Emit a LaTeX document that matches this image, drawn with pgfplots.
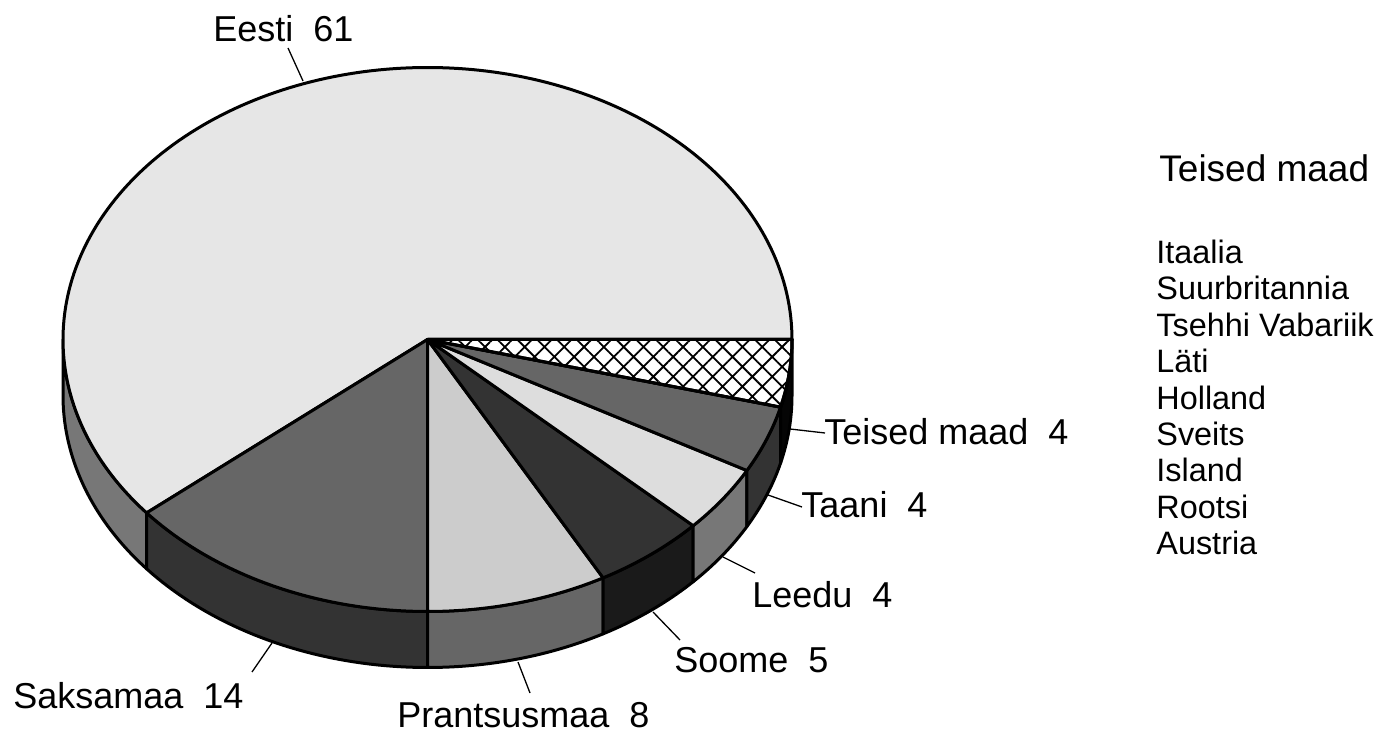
\documentclass[border=0pt]{standalone}
\usepackage{pgfplots}
\pgfplotsset{compat=1.18}
\usetikzlibrary{patterns.meta}
\usepackage{fontspec}
\setmainfont{Liberation Sans}

% data (percent)
\def\vEesti{61}
\def\vSaksamaa{14}
\def\vPrantsusmaa{8}
\def\vSoome{5}
\def\vLeedu{4}
\def\vTaani{4}
\def\vTeised{4}

% geometry in image pixels (y upward = negative)
\def\cx{427.5}
\def\cy{-339.5}
\def\rx{364.5}
\def\ry{272}
\def\dep{56}

\pgfmathsetmacro{\aA}{0}
\pgfmathsetmacro{\aB}{\aA+3.6*\vEesti}
\pgfmathsetmacro{\aC}{\aB+3.6*\vSaksamaa}
\pgfmathsetmacro{\aD}{\aC+3.6*\vPrantsusmaa}
\pgfmathsetmacro{\aE}{\aD+3.6*\vSoome}
\pgfmathsetmacro{\aF}{\aE+3.6*\vLeedu}
\pgfmathsetmacro{\aG}{\aF+3.6*\vTaani}
\pgfmathsetmacro{\aH}{\aG+3.6*\vTeised}

\definecolor{cEestiT}{HTML}{E6E6E6}
\definecolor{cEestiS}{HTML}{777777}
\definecolor{cSaksT}{HTML}{666666}
\definecolor{cSaksS}{HTML}{333333}
\definecolor{cPranT}{HTML}{CCCCCC}
\definecolor{cPranS}{HTML}{666666}
\definecolor{cSoomT}{HTML}{333333}
\definecolor{cSoomS}{HTML}{1A1A1A}
\definecolor{cLeedT}{HTML}{DDDDDD}
\definecolor{cLeedS}{HTML}{777777}
\definecolor{cTaanT}{HTML}{666666}
\definecolor{cTaanS}{HTML}{333333}
\definecolor{cTeisS}{HTML}{050505}

\def\olw{1.5pt}

% side wall: #1 start angle, #2 end angle, #3 colour
\newcommand{\sidewall}[3]{%
  \addplot[fill=#3, draw=black, line width=\olw, line join=round, domain=0:2, samples=81, variable=\t, forget plot]
   ({\cx + \rx*cos(#1+(#2-#1)*min(1,(1-abs(1-\t))*40/39))},
    {\cy + \ry*sin(#1+(#2-#1)*min(1,(1-abs(1-\t))*40/39)) - \dep*(\t>1.0001)}) -- cycle;
}
% top face
\newcommand{\topface}[4]{%
  \addplot[#3, draw=black, line width=\olw, line join=round, domain=#1:#2, samples=#4, variable=\t, forget plot]
   ({\cx + \rx*cos(\t)}, {\cy + \ry*sin(\t)}) -- (\cx,\cy) -- cycle;
}

\begin{document}
\begin{tikzpicture}
\begin{axis}[width=692pt, height=366.5pt, scale only axis,
  xmin=0, xmax=1384, ymin=-733, ymax=0, hide axis, clip=false]
\addplot[draw=none, forget plot] coordinates {(0,0) (1384,-733)};

% side walls (front half only)
\sidewall{180}{\aB}{cEestiS}
\sidewall{\aB}{\aC}{cSaksS}
\sidewall{\aC}{\aD}{cPranS}
\sidewall{\aD}{\aE}{cSoomS}
\sidewall{\aE}{\aF}{cLeedS}
\sidewall{\aF}{\aG}{cTaanS}
\sidewall{\aG}{\aH}{cTeisS}

% top faces
\topface{\aA}{\aB}{fill=cEestiT}{181}
\topface{\aB}{\aC}{fill=cSaksT}{41}
\topface{\aC}{\aD}{fill=cPranT}{25}
\topface{\aD}{\aE}{fill=cSoomT}{17}
\topface{\aE}{\aF}{fill=cLeedT}{13}
\topface{\aF}{\aG}{fill=cTaanT}{13}
\topface{\aG}{\aH}{fill=white}{13}
\addplot[pattern={Hatch[angle=45,distance=7pt,line width=0.9pt]}, draw=black, line width=\olw, line join=round, domain=\aG:\aH, samples=13, variable=\t, forget plot]
   ({\cx + \rx*cos(\t)}, {\cy + \ry*sin(\t)}) -- (\cx,\cy) -- cycle;

% leader lines
\tikzset{ldr/.style={line width=0.65pt}}
\draw[ldr] (288,-48) -- (303,-81);
\draw[ldr] (252,-672) -- (272,-643);
\draw[ldr] (530,-693) -- (518,-662);
\draw[ldr] (653,-612) -- (680,-640);
\draw[ldr] (723,-557) -- (755,-573);
\draw[ldr] (768,-495) -- (802,-507);
\draw[ldr] (790,-429) -- (825,-433);

% labels
\tikzset{lab/.style={anchor=base west, inner sep=0pt, font=\fontsize{18}{21}\selectfont}}
\node[lab] at (213,-42) {Eesti\ \ 61};
\node[lab] at (13,-708) {Saksamaa\ \ 14};
\node[lab] at (397,-727) {Prantsusmaa\ \ 8};
\node[lab] at (674,-672) {Soome\ \ 5};
\node[lab] at (752,-607) {Leedu\ \ 4};
\node[lab] at (801,-518) {Taani\ \ 4};
\node[lab] at (824,-445) {Teised maad\ \ 4};

% side list
\node[anchor=base west, inner sep=0pt, font=\fontsize{18.5}{21}\selectfont] at (1159,-182) {Teised maad};
\tikzset{lst/.style={anchor=base west, inner sep=0pt, font=\fontsize{16.2}{19}\selectfont}}
\node[lst] at (1156,-264) {Itaalia};
\node[lst] at (1156,-300) {Suurbritannia};
\node[lst] at (1156,-336.5) {Tsehhi Vabariik};
\node[lst] at (1156,-373) {Läti};
\node[lst] at (1156,-409.5) {Holland};
\node[lst] at (1156,-446) {Sveits};
\node[lst] at (1156,-482) {Island};
\node[lst] at (1156,-518.5) {Rootsi};
\node[lst] at (1156,-555) {Austria};
\end{axis}
\end{tikzpicture}
\end{document}
